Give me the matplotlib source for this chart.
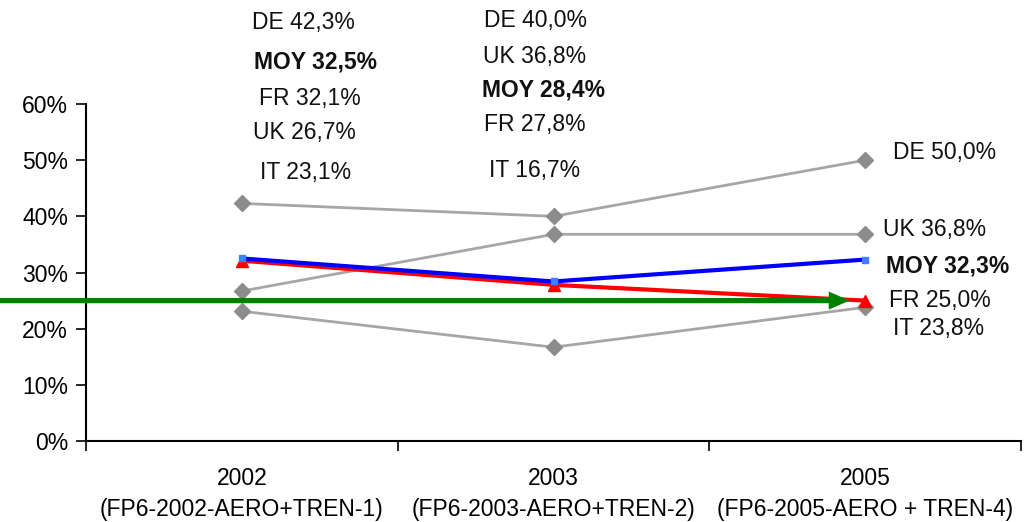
import matplotlib.pyplot as plt
import numpy as np

# data
years = ["2002\n(FP6-2002-AERO+TREN-1)", "2003\n(FP6-2003-AERO+TREN-2)", "2005\n(FP6-2005-AERO + TREN-4)"]
de = [42.3, 40.0, 50.0]
uk = [26.7, 36.8, 36.8]
fr = [32.1, 27.8, 25.0]
it = [23.1, 16.7, 23.8]
moy = [32.5, 28.4, 32.3]
target = 25.0

plt.rcParams['font.family'] = ['Liberation Sans', 'DejaVu Sans']
W, H = 1027, 522
fig = plt.figure(figsize=(W / 100, H / 100), dpi=100)
ax = fig.add_axes([86 / W, 1 - 441 / H, (1021 - 86) / W, (441 - 104) / H])
x = np.arange(len(years))

grey = "#a6a6a6"
for s in [de, uk, it]:
    ax.plot(x, s, color=grey, lw=2, marker='D', ms=8, mfc="#8c8c8c", mec="#8c8c8c", zorder=2)

ax.plot(x, fr, color="red", lw=3, marker='^', ms=9, mfc="red", mec="red", zorder=3)
ax.plot(x, moy, color="blue", lw=3, marker='s', ms=5, mfc="#3f7fff", mec="#3f7fff", zorder=4)

# green target arrow, starting off the left edge
ax.annotate("", xy=(1.95, target), xytext=(-0.8, target), xycoords='data',
            arrowprops=dict(arrowstyle='simple,head_length=0.75,head_width=0.65,tail_width=0.19',
                            mutation_scale=20, color="#008000", lw=0, shrinkA=0, shrinkB=0),
            annotation_clip=False, zorder=5)

ax.set_xlim(-0.5, 2.5)
ax.set_ylim(0, 60)
ax.set_yticks(np.arange(0, 61, 10))
ax.set_yticklabels([f"{v}%" for v in range(0, 61, 10)])
ax.set_xticks([-0.5, 0.5, 1.5, 2.5])
ax.set_xticklabels([])
ax.set_xticks(x, minor=True)
ax.set_xticklabels(years, minor=True)
ax.tick_params(axis='x', which='minor', length=0, pad=19, labelsize=16.5, color="#222222")
ax.tick_params(axis='x', which='major', length=7, width=1.2, direction='out')
ax.tick_params(axis='y', length=7, width=1.2, direction='out', labelsize=16.5, pad=6)
for lbl in ax.get_xticklabels(minor=True):
    lbl.set_linespacing(1.42)
ax.spines['top'].set_visible(False)
ax.spines['right'].set_visible(False)
ax.spines['left'].set_linewidth(1.5)
ax.spines['bottom'].set_linewidth(1.5)

# value labels (pixel centres in the figure)
def fmt(name, v):
    return f"{name} {v:.1f}%".replace('.', ',')

series = {"DE": de, "UK": uk, "FR": fr, "IT": it, "MOY": moy}
label_pos = {
    0: {"DE": (303, 22), "MOY": (316, 62), "FR": (310, 98), "UK": (304, 133), "IT": (306, 172)},
    1: {"DE": (535, 20), "UK": (535, 57), "MOY": (543, 90), "FR": (535, 125), "IT": (535, 170)},
    2: {"DE": (945, 152), "UK": (935, 230), "MOY": (948, 266), "FR": (940, 300), "IT": (939, 328)},
}
for i, pos in label_pos.items():
    for name, (px, py) in pos.items():
        fig.text(px / W, 1 - py / H, fmt(name, series[name][i]), ha='center', va='center',
                 fontsize=16.5, fontweight='bold' if name == "MOY" else 'normal', color="#111111")

plt.savefig("out.png", dpi=100)
